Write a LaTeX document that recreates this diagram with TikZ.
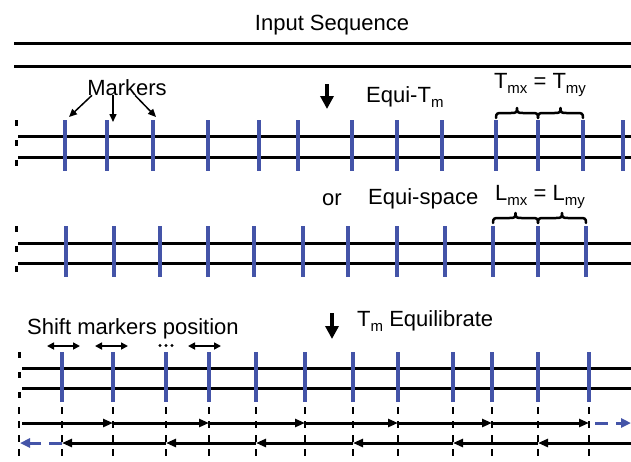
\documentclass[tikz,border=0pt]{standalone}
\usepackage{fontspec}
\setmainfont{Liberation Sans}
\usetikzlibrary{arrows.meta}
\definecolor{mblue}{RGB}{68,84,168}
% lowered, smaller subscript letters
\newcommand\lowsub[1]{\raisebox{-5pt}{\fontsize{15}{15}\selectfont #1}}
% over-brace from x=#1 to x=#2, feet at y=#3 (y grows downwards)
\newcommand\obrace[3]{%
  \draw[brcline] (#1,#3) .. controls (#1,#3-5) and (#1+1.5,#3-5) .. (#1+6,#3-5)
    -- ({(#1+#2)/2-6},#3-5) .. controls ({(#1+#2)/2-1.5},#3-5) and ({(#1+#2)/2},#3-5) .. ({(#1+#2)/2},#3-10)
    .. controls ({(#1+#2)/2},#3-5) and ({(#1+#2)/2+1.5},#3-5) .. ({(#1+#2)/2+6},#3-5)
    -- (#2-6,#3-5) .. controls (#2-1.5,#3-5) and (#2,#3-5) .. (#2,#3);}

\begin{document}
\begin{tikzpicture}[x=1pt,y=-1pt,
  lbl/.style={font=\fontsize{22}{24}\selectfont, inner sep=0pt},
  seq/.style={line width=3pt},
  mkbar/.style={draw=mblue, line width=4.5pt},
  edgedash/.style={line width=3pt, dash pattern=on 6pt off 14pt},
  guide/.style={line width=1.5pt, dash pattern=on 7pt off 7pt},
  fwd/.style={line width=3pt, -{Triangle[length=10pt,width=8pt]}},
  bdash/.style={draw=mblue, line width=3pt, dash pattern=on 13pt off 8pt,
                -{Triangle[length=10pt,width=9pt]}},
  down/.style={line width=4.5pt, -{Triangle[length=13pt,width=13pt]}},
  shiftarr/.style={line width=1.6pt,
                {Triangle[length=7pt,width=7pt]}-{Triangle[length=7pt,width=7pt]}},
  ptr/.style={line width=1.5pt, -{Triangle[length=8pt,width=7pt]}},
  brcline/.style={line width=2.5pt, line cap=round, line join=round},
]
\useasboundingbox (0,0) rectangle (631,461);

% ---------- input sequence ----------
\node[lbl] (title) at (332,25) {Input Sequence};
\draw[seq] (14,43) -- (631,43);
\draw[seq] (14,66) -- (631,66);

% ---------- equi-Tm markers ----------
\draw[seq] (18,136) -- (631,136);
\draw[seq] (18,157) -- (631,157);
\draw[edgedash] (16,120) -- (16,171);
\foreach \x [count=\i] in {65,107,153,208,259,298,352,397,442,496,538,583,623} {
  \coordinate (a\i t) at (\x,120);
  \coordinate (a\i b) at (\x,171);
  \draw[mkbar] (a\i t) -- (a\i b);
}
\node[lbl] (mk) at (127,88) {Markers};
\coordinate (p1) at (69,117);
\coordinate (p2) at (113,122);
\coordinate (p3) at (156,117);
\draw[ptr] ([xshift=-35pt,yshift=1pt]mk.south) -- (p1);
\draw[ptr] ([xshift=-14pt,yshift=1pt]mk.south) -- (p2);
\draw[ptr] ([xshift=8pt,yshift=1pt]mk.south) -- (p3);

\coordinate (d1a) at (327,84);
\coordinate (d1b) at (327,109);
\draw[down] (d1a) -- (d1b);
\node[lbl, anchor=west] (eqt) at (366,97) {Equi-T\lowsub{m}};
\node[lbl] (tmeq) at (540,85) {T\lowsub{mx} = T\lowsub{my}};
\obrace{496}{538}{118}
\obrace{538}{583}{118}

% ---------- equi-space markers ----------
\draw[seq] (18,243) -- (631,243);
\draw[seq] (18,263) -- (631,263);
\draw[edgedash] (16,226) -- (16,277);
\foreach \x [count=\i] in {66,114,160,208,254,303,348,397,445,493,538,586} {
  \coordinate (b\i t) at (\x,226);
  \coordinate (b\i b) at (\x,277);
  \draw[mkbar] (b\i t) -- (b\i b);
}
\node[lbl] (orw) at (332,200) {or};
\node[lbl, anchor=west] (eqs) at (368,199) {Equi-space};
\node[lbl] (lmeq) at (540,197) {L\lowsub{mx} = L\lowsub{my}};
\obrace{493}{538}{223}
\obrace{538}{586}{223}

% ---------- Tm equilibration ----------
\coordinate (d2a) at (332,313);
\coordinate (d2b) at (332,339);
\draw[down] (d2a) -- (d2b);
\node[lbl, anchor=west] (eqb) at (357,321) {T\lowsub{m} Equilibrate};
\node[lbl, anchor=west] (shm) at (27,329) {Shift markers position};

\draw[seq] (22,368) -- (631,368);
\draw[seq] (22,388) -- (631,388);
\draw[edgedash] (19,352) -- (19,402);

\coordinate (c0t) at (19,407);
\coordinate (c0b) at (19,461);
\coordinate (f0) at (19,423);
\coordinate (g0) at (19,443);
\draw[guide] (c0t) -- (c0b);
\foreach \x [count=\i] in {62,113,166,209,256,305,353,398,453,492,538,589} {
  \coordinate (m\i t) at (\x,352);
  \coordinate (m\i b) at (\x,402);
  \coordinate (c\i t) at (\x,407);
  \coordinate (c\i b) at (\x,461);
  \coordinate (f\i) at (\x,423);
  \coordinate (g\i) at (\x,443);
  \draw[mkbar] (m\i t) -- (m\i b);
  \draw[guide] (c\i t) -- (c\i b);
}

% shift indicators above the first markers
\coordinate (s1l) at (47,346);  \coordinate (s1r) at (80,346);
\coordinate (s2l) at (95,346);  \coordinate (s2r) at (128,346);
\coordinate (s3l) at (188,346); \coordinate (s3r) at (221,346);
\draw[shiftarr] (s1l) -- (s1r);
\draw[shiftarr] (s2l) -- (s2r);
\draw[shiftarr] (s3l) -- (s3r);
\foreach \x in {160,166,172} \fill (\x,345.5) circle (1.6pt);

% forward sweep
\draw[fwd] ([xshift=3pt]f0) -- (f2);
\draw[fwd] (f2) -- (f4);
\draw[fwd] (f4) -- (f6);
\draw[fwd] (f6) -- (f8);
\draw[fwd] (f8) -- (f10);
\draw[fwd] (f10) -- (f12);
\coordinate (fend) at (631,423);
\draw[bdash] ([xshift=6pt]f12) -- (fend);

% backward sweep
\coordinate (gend) at (631,443);
\draw[fwd] (gend) -- (g11);
\draw[fwd] (g11) -- (g9);
\draw[fwd] (g9) -- (g7);
\draw[fwd] (g7) -- (g5);
\draw[fwd] (g5) -- (g3);
\draw[fwd] (g3) -- (g1);
\draw[bdash] (g1) -- ([xshift=1pt]g0);
\end{tikzpicture}
\end{document}
